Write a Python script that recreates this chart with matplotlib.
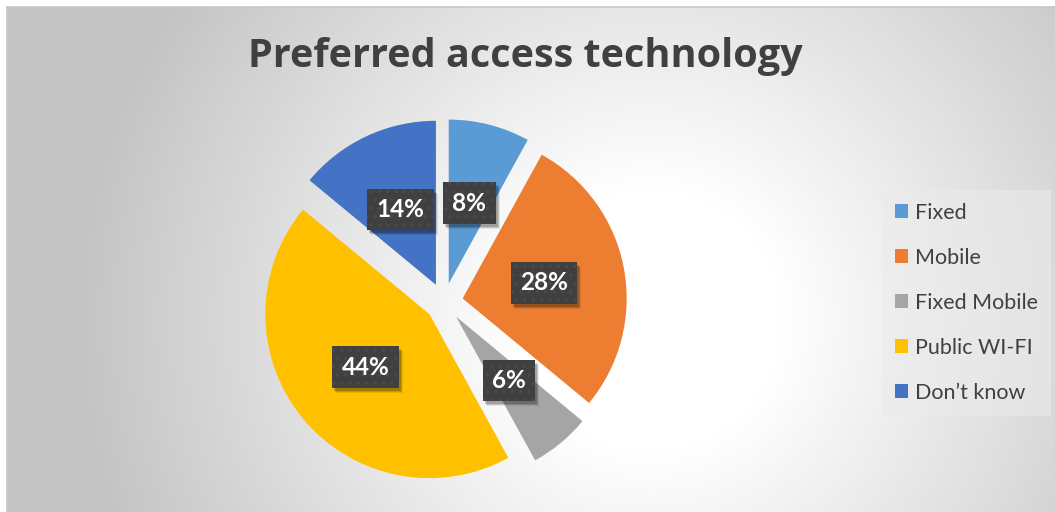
import numpy as np
import matplotlib
matplotlib.use("Agg")
import matplotlib.pyplot as plt
from matplotlib.patches import Patch, Rectangle

# survey shares
categories = ["Fixed", "Mobile", "Fixed Mobile", "Public WI-FI", "Don\u2019t know"]
shares = [8, 28, 6, 44, 14]
colors = ["#5B9BD5", "#ED7D31", "#A5A5A5", "#FFC000", "#4472C4"]
title = "Preferred access technology"

W, H = 1055, 512
plt.rcParams["font.family"] = ["Lato", "DejaVu Sans"]

fig = plt.figure(figsize=(W / 100, H / 100), dpi=100)
fig.patch.set_facecolor("white")
ax = fig.add_axes([0, 0, 1, 1])

# radial grey gradient for the chart area
x0, y0 = 7, 7
xx, yy = np.meshgrid(np.arange(x0, W), np.arange(y0, H))
r = np.hypot(xx - 650, yy - 320)
t = np.clip((r - 130) / 440, 0, 1)
shade = 1.0 - t * (1.0 - 0.77)
bg = np.dstack([shade, shade, shade])
ax.imshow(bg, extent=[x0, W, 0, H - y0], origin="upper",
          interpolation="bilinear", zorder=0, aspect="auto")
ax.plot([x0, W], [H - y0 + 0.5] * 2, color="#c8c8c8", lw=1.2, zorder=1)
ax.plot([x0 - 0.5] * 2, [0, H - y0], color="#c8c8c8", lw=1.2, zorder=1)

wedges, texts, autotexts = ax.pie(
    shares, colors=colors, startangle=90, counterclock=False,
    center=(444, H - 302), radius=164, explode=[19] * len(shares),
    autopct=lambda p: f"{p:.0f}%", pctdistance=0.506,
    wedgeprops=dict(linewidth=0), frame=True,
)
ax.set_xlim(0, W)
ax.set_ylim(0, H)
ax.set_aspect("auto")
ax.axis("off")

# dark dotted value boxes
for at in autotexts:
    at.set(fontsize=17.5, fontweight="bold", color="white", zorder=4)
    at.set_bbox(dict(boxstyle="square,pad=0.38", facecolor="#404040",
                     edgecolor="#4b4b4b", linewidth=0, hatch=".."))

ax.text(525, H - 57, title, ha="center", va="center", fontsize=28.5,
        fontweight="bold", color="#404040", zorder=5, family="Open Sans")

handles = [Patch(facecolor=c, edgecolor="none", label=l)
           for c, l in zip(colors, categories)]
leg = ax.legend(handles=handles, loc="upper left",
                bbox_to_anchor=(882 / W, 1 - 190 / H), frameon=True,
                fancybox=False, fontsize=15.5, labelcolor="#404040",
                handlelength=0.62, handleheight=0.62, handletextpad=0.33,
                labelspacing=1.16, borderpad=0.6, borderaxespad=0)
leg.get_frame().set_facecolor("#ebebeb")
leg.get_frame().set_alpha(0.6)
leg.get_frame().set_edgecolor("none")

# soft drop shadows under the value boxes, placed from their drawn extents
fig.canvas.draw()
renderer = fig.canvas.get_renderer()
to_data = ax.transData.inverted()
for at in autotexts:
    bb = at.get_bbox_patch().get_window_extent(renderer).transformed(to_data)
    for k, a in ((5, 0.08), (4, 0.14), (3, 0.18)):
        ax.add_patch(Rectangle((bb.x0 + k - 1, bb.y0 - k), bb.width, bb.height,
                               facecolor="black", alpha=a, edgecolor="none",
                               zorder=3))

fig.savefig("out.png", dpi=100, facecolor=fig.get_facecolor())
